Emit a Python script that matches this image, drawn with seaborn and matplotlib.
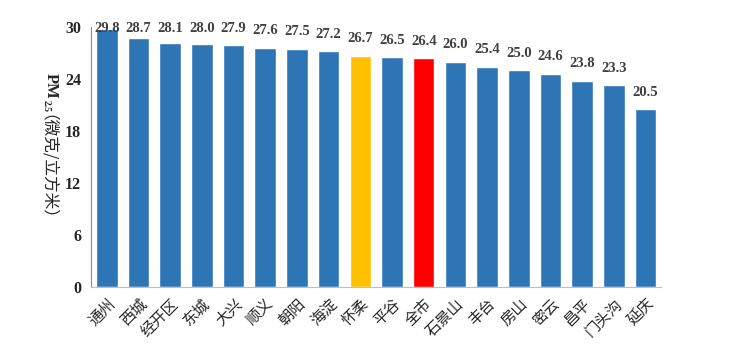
import pandas as pd
import matplotlib.pyplot as plt
import seaborn as sns
import numpy as np

# ---------------- DATA ----------------

districts = ["通州", "西城", "经开区", "东城", "大兴", "顺义", "朝阳", "海淀", "怀柔",
             "平谷", "全市", "石景山", "丰台", "房山", "密云", "昌平", "门头沟", "延庆"]
pm25 = [29.8, 28.7, 28.1, 28.0, 27.9, 27.6, 27.5, 27.2, 26.7,
        26.5, 26.4, 26.0, 25.4, 25.0, 24.6, 23.8, 23.3, 20.5]
y_ticks = [0, 6, 12, 18, 24, 30]

colors = {d: "#2E75B6" for d in districts}
colors["怀柔"] = "#FFC000"
colors["全市"] = "#FF0000"

data = pd.DataFrame({"district": districts, "pm25": pm25})

# ---------------- PLOT ----------------

sns.set_style("white")
plt.rcParams['font.family'] = ['Noto Sans CJK SC', 'DejaVu Sans']

fig = plt.figure(figsize=(7.36, 3.6), dpi=100)
ax = fig.add_axes([0.1236, 0.203, 0.775, 0.722])

sns.barplot(data=data, x="district", y="pm25", hue="district",
            palette=colors, legend=False, width=0.68, saturation=1, ax=ax)

n = len(districts)
ax.set_xlim(-0.5, n - 0.5)
ax.set_ylim(0, 30)
ax.set_yticks(y_ticks)
ax.set_yticklabels([str(t) for t in y_ticks], family="Liberation Serif",
                   fontweight="bold", fontsize=11.5)

ax.set_xticks(range(n))
ax.set_xticklabels(districts, rotation=45, ha="right", va="top",
                   rotation_mode="anchor", fontsize=11)
ax.tick_params(axis="x", length=0, pad=6)
ax.set_xticks(np.arange(-0.5, n, 1), minor=True)
ax.tick_params(axis="x", which="minor", length=5, color="#BFBFBF", width=1, direction="out")
ax.tick_params(axis="y", length=5, color="#8C8C8C", direction="out", pad=2)

for s in ["top", "right"]:
    ax.spines[s].set_visible(False)
ax.spines["left"].set_color("#8C8C8C")
ax.spines["bottom"].set_color("#BFBFBF")

# value labels, clamped at the top of the axis
for i, v in enumerate(pm25):
    ax.text(i, min(v + 1.95, 29.8), f"{v:.1f}", ha="center", va="center",
            family="Liberation Serif", fontweight="bold", fontsize=10.5,
            color="#404040", clip_on=False)

ax.set_xlabel("")
ax.set_ylabel("")

# y label, rotated clockwise: bold PM, small 2.5, then the unit in Chinese
def fx(px):
    return px / 736


def fy(px):
    return 1 - px / 360


rot = dict(rotation=-90, rotation_mode="anchor", ha="left", va="baseline")
fig.text(fx(47), fy(73), "PM", family="Liberation Serif", fontweight="bold",
         fontsize=12, **rot)
fig.text(fx(44), fy(100), "2.5", family="Liberation Serif", fontweight="bold",
         fontsize=7, **rot)
fig.text(fx(34), fy(114), "（微克/立方米）", fontsize=12, **rot)

plt.savefig("out.png", dpi=100)
plt.close()
